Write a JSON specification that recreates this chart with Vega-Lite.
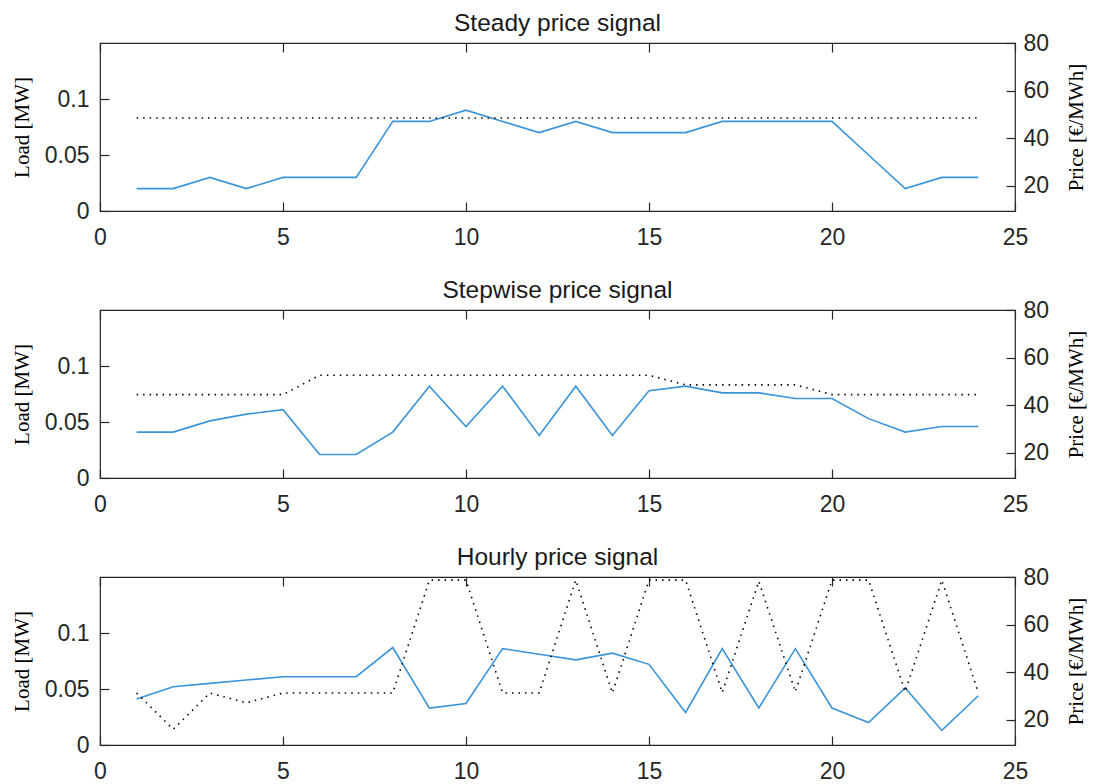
{
  "$schema": "https://vega.github.io/schema/vega-lite/v6.json",
  "padding": {"left": 10, "top": 9, "right": 5, "bottom": 5},
  "background": "white",
  "datasets": {
    "steady": [
      {"hour": 1, "load": 0.02, "price": 48.5},
      {"hour": 2, "load": 0.02, "price": 48.5},
      {"hour": 3, "load": 0.03, "price": 48.5},
      {"hour": 4, "load": 0.02, "price": 48.5},
      {"hour": 5, "load": 0.03, "price": 48.5},
      {"hour": 6, "load": 0.03, "price": 48.5},
      {"hour": 7, "load": 0.03, "price": 48.5},
      {"hour": 8, "load": 0.08, "price": 48.5},
      {"hour": 9, "load": 0.08, "price": 48.5},
      {"hour": 10, "load": 0.09, "price": 48.5},
      {"hour": 11, "load": 0.08, "price": 48.5},
      {"hour": 12, "load": 0.07, "price": 48.5},
      {"hour": 13, "load": 0.08, "price": 48.5},
      {"hour": 14, "load": 0.07, "price": 48.5},
      {"hour": 15, "load": 0.07, "price": 48.5},
      {"hour": 16, "load": 0.07, "price": 48.5},
      {"hour": 17, "load": 0.08, "price": 48.5},
      {"hour": 18, "load": 0.08, "price": 48.5},
      {"hour": 19, "load": 0.08, "price": 48.5},
      {"hour": 20, "load": 0.08, "price": 48.5},
      {"hour": 21, "load": 0.05, "price": 48.5},
      {"hour": 22, "load": 0.02, "price": 48.5},
      {"hour": 23, "load": 0.03, "price": 48.5},
      {"hour": 24, "load": 0.03, "price": 48.5}
    ],
    "stepwise": [
      {"hour": 1, "load": 0.041, "price": 44.5},
      {"hour": 2, "load": 0.041, "price": 44.5},
      {"hour": 3, "load": 0.051, "price": 44.5},
      {"hour": 4, "load": 0.057, "price": 44.5},
      {"hour": 5, "load": 0.061, "price": 44.5},
      {"hour": 6, "load": 0.021, "price": 52.6},
      {"hour": 7, "load": 0.021, "price": 52.6},
      {"hour": 8, "load": 0.041, "price": 52.6},
      {"hour": 9, "load": 0.082, "price": 52.6},
      {"hour": 10, "load": 0.046, "price": 52.6},
      {"hour": 11, "load": 0.082, "price": 52.6},
      {"hour": 12, "load": 0.038, "price": 52.6},
      {"hour": 13, "load": 0.082, "price": 52.6},
      {"hour": 14, "load": 0.038, "price": 52.6},
      {"hour": 15, "load": 0.078, "price": 52.6},
      {"hour": 16, "load": 0.082, "price": 48.6},
      {"hour": 17, "load": 0.076, "price": 48.6},
      {"hour": 18, "load": 0.076, "price": 48.6},
      {"hour": 19, "load": 0.071, "price": 48.6},
      {"hour": 20, "load": 0.071, "price": 44.5},
      {"hour": 21, "load": 0.053, "price": 44.5},
      {"hour": 22, "load": 0.041, "price": 44.5},
      {"hour": 23, "load": 0.046, "price": 44.5},
      {"hour": 24, "load": 0.046, "price": 44.5}
    ],
    "hourly": [
      {"hour": 1, "load": 0.041, "price": 31.3},
      {"hour": 2, "load": 0.052, "price": 16.1},
      {"hour": 3, "load": 0.055, "price": 31.3},
      {"hour": 4, "load": 0.058, "price": 27.2},
      {"hour": 5, "load": 0.061, "price": 31.3},
      {"hour": 6, "load": 0.061, "price": 31.3},
      {"hour": 7, "load": 0.061, "price": 31.3},
      {"hour": 8, "load": 0.087, "price": 31.3},
      {"hour": 9, "load": 0.033, "price": 78.7},
      {"hour": 10, "load": 0.037, "price": 78.7},
      {"hour": 11, "load": 0.086, "price": 31.3},
      {"hour": 12, "load": 0.081, "price": 31.3},
      {"hour": 13, "load": 0.076, "price": 78.7},
      {"hour": 14, "load": 0.082, "price": 31.3},
      {"hour": 15, "load": 0.072, "price": 78.7},
      {"hour": 16, "load": 0.029, "price": 78.7},
      {"hour": 17, "load": 0.086, "price": 31.5},
      {"hour": 18, "load": 0.033, "price": 78.2},
      {"hour": 19, "load": 0.086, "price": 31.8},
      {"hour": 20, "load": 0.033, "price": 78.7},
      {"hour": 21, "load": 0.02, "price": 78.7},
      {"hour": 22, "load": 0.051, "price": 31.8},
      {"hour": 23, "load": 0.013, "price": 78.7},
      {"hour": 24, "load": 0.044, "price": 31.3}
    ]
  },
  "spacing": 26,
  "vconcat": [
    {
      "width": 915, "height": 168,
      "title": {"text": "Steady price signal"},
      "data": {"name": "steady"},
      "layer": [
        {
          "mark": {"type": "line", "color": "#3B94D9", "strokeWidth": 1.6, "clip": true},
          "encoding": {
            "x": {"field": "hour", "type": "quantitative", "scale": {"domain": [0, 25], "nice": false},
                  "axis": {"orient": "bottom", "values": [0, 5, 10, 15, 20, 25], "title": null, "ticks": false, "labelPadding": 15, "labelFlush": false, "labelOverlap": false}},
            "y": {"field": "load", "type": "quantitative", "scale": {"domain": [0, 0.15], "nice": false, "zero": false},
                  "axis": {"orient": "left", "values": [0, 0.05, 0.1], "format": ".2~f", "title": "Load [MW]", "ticks": false, "labelPadding": 11, "titlePadding": 12}}
          }
        },
        {
          "mark": {"type": "line", "color": "#000000", "strokeWidth": 1.6, "strokeDash": [1.5, 5], "clip": true},
          "encoding": {
            "x": {"field": "hour", "type": "quantitative",
                  "axis": {"orient": "bottom", "offset": -168, "values": [0, 5, 10, 15, 20, 25], "title": null, "labels": false}},
            "y": {"field": "price", "type": "quantitative", "scale": {"domain": [9.5, 80], "nice": false, "zero": false},
                  "axis": {"orient": "right", "values": [20, 40, 60, 80], "title": "Price [€/MWh]", "titleAngle": 270, "ticks": false, "labelPadding": 8, "titlePadding": 38}}
          }
        },
        {
          "mark": {"type": "line", "opacity": 0},
          "encoding": {
            "x": {"field": "hour", "type": "quantitative",
                  "axis": {"orient": "top", "offset": -168, "values": [0, 5, 10, 15, 20, 25], "title": null, "labels": false}},
            "y": {"field": "load", "type": "quantitative", "scale": {"domain": [0, 0.15], "nice": false, "zero": false},
                  "axis": {"orient": "right", "offset": -915, "values": [0, 0.05, 0.1], "title": null, "labels": false}}
          }
        },
        {
          "mark": {"type": "line", "opacity": 0},
          "encoding": {
            "x": {"field": "hour", "type": "quantitative", "axis": null},
            "y": {"field": "price", "type": "quantitative", "scale": {"domain": [9.5, 80], "nice": false, "zero": false},
                  "axis": {"orient": "left", "offset": -915, "values": [20, 40, 60, 80], "title": null, "labels": false}}
          }
        }
      ],
      "resolve": {"scale": {"y": "independent"}, "axis": {"x": "independent", "y": "independent"}}
    },
    {
      "width": 915, "height": 168,
      "title": {"text": "Stepwise price signal"},
      "data": {"name": "stepwise"},
      "layer": [
        {
          "mark": {"type": "line", "color": "#3B94D9", "strokeWidth": 1.6, "clip": true},
          "encoding": {
            "x": {"field": "hour", "type": "quantitative", "scale": {"domain": [0, 25], "nice": false},
                  "axis": {"orient": "bottom", "values": [0, 5, 10, 15, 20, 25], "title": null, "ticks": false, "labelPadding": 15, "labelFlush": false, "labelOverlap": false}},
            "y": {"field": "load", "type": "quantitative", "scale": {"domain": [0, 0.15], "nice": false, "zero": false},
                  "axis": {"orient": "left", "values": [0, 0.05, 0.1], "format": ".2~f", "title": "Load [MW]", "ticks": false, "labelPadding": 11, "titlePadding": 12}}
          }
        },
        {
          "mark": {"type": "line", "color": "#000000", "strokeWidth": 1.6, "strokeDash": [1.5, 5], "clip": true},
          "encoding": {
            "x": {"field": "hour", "type": "quantitative",
                  "axis": {"orient": "bottom", "offset": -168, "values": [0, 5, 10, 15, 20, 25], "title": null, "labels": false}},
            "y": {"field": "price", "type": "quantitative", "scale": {"domain": [9.5, 80], "nice": false, "zero": false},
                  "axis": {"orient": "right", "values": [20, 40, 60, 80], "title": "Price [€/MWh]", "titleAngle": 270, "ticks": false, "labelPadding": 8, "titlePadding": 38}}
          }
        },
        {
          "mark": {"type": "line", "opacity": 0},
          "encoding": {
            "x": {"field": "hour", "type": "quantitative",
                  "axis": {"orient": "top", "offset": -168, "values": [0, 5, 10, 15, 20, 25], "title": null, "labels": false}},
            "y": {"field": "load", "type": "quantitative", "scale": {"domain": [0, 0.15], "nice": false, "zero": false},
                  "axis": {"orient": "right", "offset": -915, "values": [0, 0.05, 0.1], "title": null, "labels": false}}
          }
        },
        {
          "mark": {"type": "line", "opacity": 0},
          "encoding": {
            "x": {"field": "hour", "type": "quantitative", "axis": null},
            "y": {"field": "price", "type": "quantitative", "scale": {"domain": [9.5, 80], "nice": false, "zero": false},
                  "axis": {"orient": "left", "offset": -915, "values": [20, 40, 60, 80], "title": null, "labels": false}}
          }
        }
      ],
      "resolve": {"scale": {"y": "independent"}, "axis": {"x": "independent", "y": "independent"}}
    },
    {
      "width": 915, "height": 168,
      "title": {"text": "Hourly price signal"},
      "data": {"name": "hourly"},
      "layer": [
        {
          "mark": {"type": "line", "color": "#3B94D9", "strokeWidth": 1.6, "clip": true},
          "encoding": {
            "x": {"field": "hour", "type": "quantitative", "scale": {"domain": [0, 25], "nice": false},
                  "axis": {"orient": "bottom", "values": [0, 5, 10, 15, 20, 25], "title": null, "ticks": false, "labelPadding": 15, "labelFlush": false, "labelOverlap": false}},
            "y": {"field": "load", "type": "quantitative", "scale": {"domain": [0, 0.15], "nice": false, "zero": false},
                  "axis": {"orient": "left", "values": [0, 0.05, 0.1], "format": ".2~f", "title": "Load [MW]", "ticks": false, "labelPadding": 11, "titlePadding": 12}}
          }
        },
        {
          "mark": {"type": "line", "color": "#000000", "strokeWidth": 1.6, "strokeDash": [1.5, 5], "clip": true},
          "encoding": {
            "x": {"field": "hour", "type": "quantitative",
                  "axis": {"orient": "bottom", "offset": -168, "values": [0, 5, 10, 15, 20, 25], "title": null, "labels": false}},
            "y": {"field": "price", "type": "quantitative", "scale": {"domain": [9.5, 80], "nice": false, "zero": false},
                  "axis": {"orient": "right", "values": [20, 40, 60, 80], "title": "Price [€/MWh]", "titleAngle": 270, "ticks": false, "labelPadding": 8, "titlePadding": 38}}
          }
        },
        {
          "mark": {"type": "line", "opacity": 0},
          "encoding": {
            "x": {"field": "hour", "type": "quantitative",
                  "axis": {"orient": "top", "offset": -168, "values": [0, 5, 10, 15, 20, 25], "title": null, "labels": false}},
            "y": {"field": "load", "type": "quantitative", "scale": {"domain": [0, 0.15], "nice": false, "zero": false},
                  "axis": {"orient": "right", "offset": -915, "values": [0, 0.05, 0.1], "title": null, "labels": false}}
          }
        },
        {
          "mark": {"type": "line", "opacity": 0},
          "encoding": {
            "x": {"field": "hour", "type": "quantitative", "axis": null},
            "y": {"field": "price", "type": "quantitative", "scale": {"domain": [9.5, 80], "nice": false, "zero": false},
                  "axis": {"orient": "left", "offset": -915, "values": [20, 40, 60, 80], "title": null, "labels": false}}
          }
        }
      ],
      "resolve": {"scale": {"y": "independent"}, "axis": {"x": "independent", "y": "independent"}}
    }
  ],
  "config": {
    "view": {"stroke": "#262626", "strokeWidth": 1.2},
    "axis": {
      "domain": false, "grid": false,
      "tickColor": "#262626", "tickSize": 9, "tickWidth": 1.2,
      "labelFont": "Liberation Sans", "labelFontSize": 23, "labelColor": "#262626",
      "titleFont": "Liberation Serif", "titleFontSize": 21, "titleFontWeight": "normal", "titleColor": "#000000"
    },
    "title": {"font": "Liberation Sans", "fontSize": 24.5, "fontWeight": "normal", "color": "#1a1a1a", "offset": -4}
  }
}
